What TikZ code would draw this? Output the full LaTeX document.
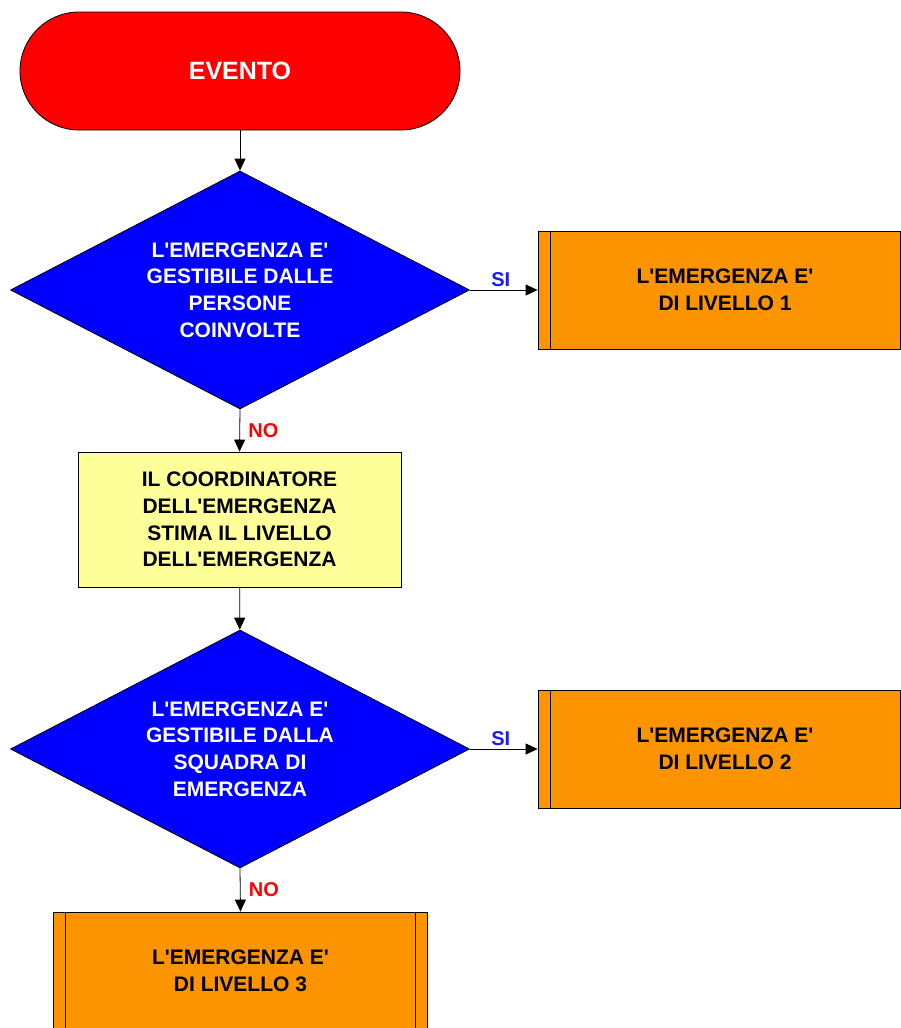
\documentclass[tikz,border=0pt]{standalone}
\usepackage{fontspec}
\setmainfont{Liberation Sans}[Ligatures=TeXOff]
\usetikzlibrary{shapes.geometric,arrows.meta}

\definecolor{rosso}{RGB}{255,0,0}
\definecolor{blu}{RGB}{0,0,255}
\definecolor{giallo}{RGB}{255,255,153}
\definecolor{arancio}{RGB}{251,148,0}
\definecolor{blusi}{RGB}{25,25,255}

\tikzset{
    testo/.style={font=\bfseries\fontsize{21}{26.7}\selectfont, align=center, line width=0.8pt},
    inizio/.style={testo, draw=black, fill=rosso, text=white, rounded corners=59pt,
        minimum width=440pt, minimum height=118pt, font=\bfseries\fontsize{25}{30}\selectfont},
    domanda/.style={testo, diamond, aspect=2, draw=black, fill=blu, text=white,
        inner sep=0pt, minimum width=459pt, minimum height=238pt},
    azione/.style={testo, draw=black, fill=giallo, minimum width=323pt, minimum height=135pt},
    livello/.style={testo, draw=black, fill=arancio, minimum width=374pt, minimum height=118pt,
        path picture={
            \draw[line width=0.8pt] ([xshift=12pt]path picture bounding box.north west) -- ([xshift=12pt]path picture bounding box.south west);
            \draw[line width=0.8pt] ([xshift=-12pt]path picture bounding box.north east) -- ([xshift=-12pt]path picture bounding box.south east);
        }},
    freccia/.style={-{Triangle[length=12pt,width=11pt]}, line width=0.8pt},
    etichetta/.style={font=\bfseries\fontsize{20}{24}\selectfont}
}

\begin{document}
\begin{tikzpicture}[x=1pt,y=-1pt]
    \useasboundingbox (0,0) rectangle (901,1028);
    \clip (0,0) rectangle (901,1028);

    \node[inizio]  (evento) at (240,71)    {EVENTO};
    \node[domanda] (q1)     at (240,290)   {L'EMERGENZA E'\\GESTIBILE DALLE\\PERSONE\\COINVOLTE};
    \node[livello] (lev1)   at (725,290)   {L'EMERGENZA E'\\DI LIVELLO 1};
    \node[azione]  (stima)  at (239.5,519.5) {IL COORDINATORE\\DELL'EMERGENZA\\STIMA IL LIVELLO\\DELL'EMERGENZA};
    \node[domanda] (q2)     at (240,749)   {L'EMERGENZA E'\\GESTIBILE DALLA\\SQUADRA DI\\EMERGENZA};
    \node[livello] (lev2)   at (725,749)   {L'EMERGENZA E'\\DI LIVELLO 2};
    \node[livello] (lev3)   at (240.5,971) {L'EMERGENZA E'\\DI LIVELLO 3};

    \draw[freccia] (evento.south) -- (q1.north);
    \draw[freccia] (q1.east) -- node[etichetta, text=blusi, above, xshift=-3pt] (si1) {SI} (lev1.west);
    \draw[freccia] (q1.south) -- node[etichetta, text=rosso, right, xshift=5pt] (no1) {NO} (stima.north);
    \draw[freccia] (stima) -- (q2);
    \draw[freccia] (q2.east) -- node[etichetta, text=blusi, above, xshift=-3pt] (si2) {SI} (lev2.west);
    \draw[freccia] (q2.south) -- node[etichetta, text=rosso, right, xshift=5pt] (no2) {NO} (lev3.north);

\end{tikzpicture}
\end{document}
